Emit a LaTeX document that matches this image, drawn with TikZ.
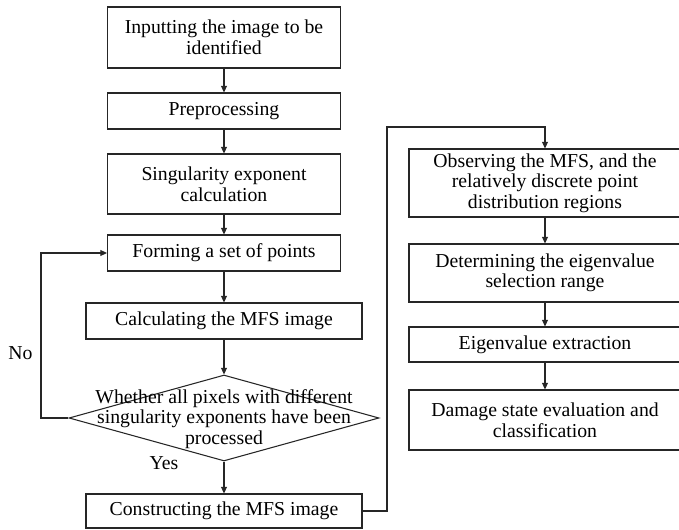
\documentclass[tikz,border=0pt]{standalone}
\usepackage{fontspec}
\setmainfont{Liberation Serif}
\usetikzlibrary{arrows.meta,shapes.geometric}
\newcommand{\flowfont}{\fontsize{14.8pt}{15.4pt}\selectfont}
\tikzset{
  box/.style={draw=black!85, line width=0.8pt, align=center, inner sep=0pt, font=\flowfont},
  lw/.style={minimum width=174.75pt},
  ww/.style={minimum width=207pt},
  rw/.style={minimum width=204pt},
  conn/.style={draw=black!85, line width=0.8pt},
  arr/.style={conn, -{Triangle[length=5pt,width=4.5pt]}},
  lbl/.style={font=\flowfont, inner sep=0pt}
}
\begin{document}
\begin{tikzpicture}[x=0.75pt,y=-0.75pt]
\useasboundingbox (0,0) rectangle (679,530);
\clip (0,0) rectangle (679,530);
% left column
\node[box,lw,minimum height=45.75pt] (b1) at (224,37.5) {Inputting the image to be\\identified};
\node[box,lw,minimum height=27pt] (b2) at (224,111) {Preprocessing};
\node[box,lw,minimum height=45pt] (b3) at (224,184) {Singularity exponent\\calculation};
\node[box,lw,minimum height=27pt] (b4) at (224,253) {Forming a set of points};
\node[box,ww,minimum height=27pt] (b5) at (224,321) {Calculating the MFS image};
\node[draw=black!85, line width=0.8pt, diamond, inner sep=0pt, minimum width=232.5pt, minimum height=64.5pt] (d) at (224,418) {};
\node[lbl, align=center] (dt) at (224,419) {Whether all pixels with different\\singularity exponents have been\\processed};
\node[box,ww,minimum height=25.5pt] (b7) at (224,511) {Constructing the MFS image};
% right column
\node[box,rw,minimum height=51pt] (r1) at (545,183) {Observing the MFS, and the\\relatively discrete point\\distribution regions};
\node[box,rw,minimum height=43.5pt] (r2) at (545,273) {Determining the eigenvalue\\selection range};
\node[box,rw,minimum height=26.25pt] (r3) at (545,344.5) {Eigenvalue extraction};
\node[box,rw,minimum height=45pt] (r4) at (545,420) {Damage state evaluation and\\classification};
% labels
\node[lbl] (no) at (20.5,353) {No};
\node[lbl] (yes) at (164,463) {Yes};
% connectors
\draw[arr] (b1) -- (b2);
\draw[arr] (b2) -- (b3);
\draw[arr] (b3) -- (b4);
\draw[arr] (b4) -- (b5);
\draw[arr] (b5) -- (d.north);
\draw[arr] (d.south) -- (b7);
\coordinate (nl) at (41,418);
\draw[arr] (d.west) -- (nl) |- (b4.west);
\coordinate (rl1) at (387,511);
\coordinate (rl2) at (387,127);
\draw[arr] (b7.east) -- (rl1) -- (rl2) -| (r1.north);
\draw[arr] (r1) -- (r2);
\draw[arr] (r2) -- (r3);
\draw[arr] (r3) -- (r4);
\end{tikzpicture}
\end{document}
